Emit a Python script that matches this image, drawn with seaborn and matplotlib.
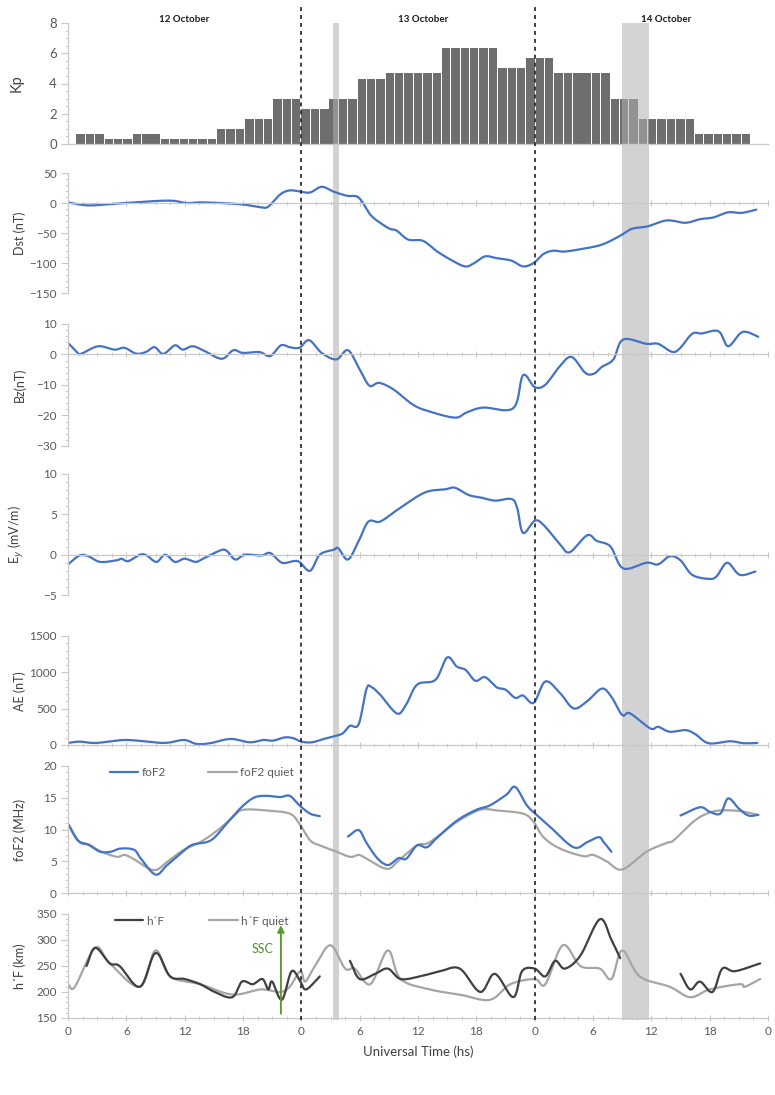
import numpy as np
import pandas as pd
import matplotlib
matplotlib.use("Agg")
import matplotlib.pyplot as plt
import seaborn as sns
from matplotlib.ticker import MultipleLocator, FixedLocator
from matplotlib.lines import Line2D

sns.set_theme(style="white")
plt.rcParams["font.family"] = ["Lato", "DejaVu Sans"]

# ---------------- data ----------------
kp_index = list(range(72))
kp_values = [0.67, 0.67, 0.67, 0.33, 0.33, 0.33, 0.67, 0.67, 0.67, 0.33, 0.33, 0.33,
             0.33, 0.33, 0.33, 1.0, 1.0, 1.0, 1.67, 1.67, 1.67, 3.0, 3.0, 3.0,
             2.33, 2.33, 2.33, 3.0, 3.0, 3.0, 4.33, 4.33, 4.33, 4.67, 4.67, 4.67,
             4.67, 4.67, 4.67, 6.33, 6.33, 6.33, 6.33, 6.33, 6.33, 5.0, 5.0, 5.0,
             5.67, 5.67, 5.67, 4.67, 4.67, 4.67, 4.67, 4.67, 4.67, 3.0, 3.0, 3.0,
             1.67, 1.67, 1.67, 1.67, 1.67, 1.67, 0.67, 0.67, 0.67, 0.67, 0.67, 0.67]

dst_t = [0, 2.1, 5, 10.2, 12.2, 13.9, 17.7, 19.8, 20.6, 21.8, 22.8, 23.9, 24.9, 26.1, 27.3,
         28.7, 29.9, 31.1, 32.1, 33.1, 33.8, 35.0, 36.5, 37.9, 39.3, 40.8, 41.7, 42.9, 44.1,
         45.6, 46.8, 47.9, 48.9, 49.9, 51.0, 52.7, 54.9, 56.8, 58.0, 59.6, 61.6, 63.5, 65.0,
         66.4, 67.9, 69.3, 70.8]
dst_v = [1, -4, -1, 4, 0, 1, -2, -7, -6, 14, 21, 19, 17.5, 27, 19,
         12, 9, -19.5, -33, -43, -46, -61, -63, -80, -94, -105.6, -101, -89, -92,
         -96, -105.6, -100, -85, -79.5, -81, -77, -69.5, -54.5, -43, -39, -29, -33, -27,
         -24, -15.5, -16.5, -11]

bz_t = [0, 1.0, 1.4, 3.1, 4.8, 5.8, 7.0, 8.0, 8.9, 9.8, 11.0, 11.8, 12.8, 13.9, 15.8, 17.0,
        18.0, 19.7, 20.8, 21.9, 22.8, 23.8, 24.8, 26.1, 27.6, 28.8, 30.0, 31.0, 32.0, 33.5,
        35.5, 37.2, 39.8, 41.0, 42.7, 45.8, 46.8, 48.0, 49.1, 50.6, 51.8, 53.2, 54.1, 54.9,
        56.1, 57.1, 59.5, 60.7, 62.1, 62.9, 64.2, 65.2, 66.4, 67.1, 67.9, 69.1, 69.8, 71.0]
bz_v = [3.8, 0.5, 0.3, 2.7, 1.6, 2.2, 0.3, 0.8, 2.4, 0.2, 3.0, 1.6, 2.7, 1.4, -1.4, 1.4,
        0.5, 0.8, -0.5, 3.0, 2.4, 2.2, 4.7, 0.5, -1.6, 1.4, -4.9, -10.2, -9.3, -11.5,
        -16.5, -18.7, -20.7, -19.0, -17.4, -17.6, -6.8, -10.7, -9.9, -3.8, -0.8, -6.0, -6.3, -4.1,
        -1.6, 4.9, 3.5, 3.5, 0.9, 1.9, 6.8, 6.9, 7.8, 7.1, 2.7, 6.8, 7.4, 5.8]

ey_t = [0, 1.2, 2.1, 3.3, 5.0, 5.5, 6.2, 7.4, 8.1, 9.1, 10.0, 11.0, 12.0, 13.1, 13.9, 15.6,
        16.3, 17.2, 18.2, 19.9, 20.8, 22.0, 23.2, 23.8, 24.9, 25.9, 27.3, 27.8, 28.8, 29.9,
        30.9, 32.1, 33.8, 35.9, 37.2, 38.8, 39.8, 41.2, 42.4, 43.9, 45.6, 46.2, 46.8, 48.0,
        48.9, 50.6, 51.6, 53.4, 54.4, 55.8, 57.1, 59.5, 60.7, 61.9, 63.0, 64.2, 65.9, 66.7,
        67.8, 69.1, 70.7]
ey_v = [-1.2, -0.1, -0.2, -0.9, -0.7, -0.5, -0.8, 0.0, -0.1, -0.9, 0.0, -0.9, -0.5, -0.9, -0.5, 0.5,
        0.5, -0.6, 0.0, -0.1, 0.2, -1.0, -0.8, -0.9, -2.0, 0.0, 0.6, 0.8, -0.6, 1.7,
        4.1, 4.1, 5.5, 7.2, 7.9, 8.1, 8.3, 7.4, 7.1, 6.7, 6.9, 5.8, 2.7, 4.2,
        3.7, 1.3, 0.3, 2.4, 1.7, 1.0, -1.7, -1.0, -1.2, -0.2, -0.7, -2.5, -3.0, -2.7,
        -1.0, -2.5, -2.1]

ae_t = [0, 1.2, 2.9, 6.0, 9.8, 11.9, 13.2, 14.6, 16.7, 18.7, 20.1, 21.1, 22.3, 23.2, 24.0,
        25.1, 26.3, 27.6, 28.3, 29.0, 29.9, 30.7, 31.2, 32.1, 33.8, 34.7, 35.9, 37.8, 39.0,
        40.0, 40.9, 41.9, 42.9, 44.1, 45.0, 46.0, 46.8, 47.9, 49.1, 50.6, 52.0, 53.4, 54.9,
        55.9, 57.0, 57.8, 59.9, 60.7, 61.9, 63.5, 64.5, 65.9, 68.1, 69.5, 70.9]
ae_v = [27, 45, 27, 68, 27, 68, 14, 23, 82, 36, 68, 59, 104, 91, 45,
        36, 82, 127, 163, 263, 285, 770, 797, 693, 435, 535, 829, 897, 1205,
        1078, 1033, 883, 933, 793, 761, 648, 680, 580, 874, 716, 503, 602, 775,
        661, 412, 435, 227, 249, 181, 204, 150, 23, 50, 23, 27]

fof2_t = [0, 1.0, 2.1, 3.3, 4.4, 5.4, 6.8, 7.5, 9.0, 10.2, 11.8, 12.8, 14.7, 16.3, 17.7, 19.1,
          20.4, 21.8, 22.8, 23.8, 24.9, 25.9,
          28.8, 29.9, 30.7, 31.8, 32.9, 34.0, 34.8, 35.9, 36.9, 37.9, 40.0, 42.0, 43.4, 45.1,
          46.0, 47.2, 48.2, 49.6, 52.0, 53.4, 54.6, 55.1, 55.9,
          63.0, 65.0, 66.0, 67.1, 67.9, 69.0, 70.0, 71.0]
fof2_v = [10.9, 8.3, 7.6, 6.5, 6.5, 7.0, 6.8, 5.4, 2.9, 4.4, 6.5, 7.6, 8.3, 10.9, 13.3, 15.0,
          15.3, 15.1, 15.3, 13.8, 12.5, 12.1,
          8.9, 9.9, 7.9, 5.5, 4.4, 5.5, 5.4, 7.5, 7.2, 8.6, 11.4, 13.1, 13.8, 15.5,
          16.7, 13.8, 12.3, 10.4, 7.2, 8.0, 8.8, 8.0, 6.5,
          12.2, 13.5, 12.8, 12.5, 14.9, 13.3, 12.2, 12.3]
fof2_seg = [1] * 22 + [2] * 23 + [3] * 8

fof2q_t = [0, 1.2, 2.2, 3.3, 5.0, 5.8, 6.7, 8.8, 10.2, 11.8, 13.7, 15.4, 17.0, 18.0, 20.4,
           22.8, 23.8, 24.9, 25.9, 27.3, 29.0, 29.9, 30.7, 32.8, 34.0, 35.9, 37.2, 40.0, 42.4,
           44.1, 46.8, 47.9, 48.9, 50.6, 53.0, 54.0, 55.4, 57.0, 59.5, 61.6, 62.3, 64.3, 65.7,
           67.1, 69.1, 71.0]
fof2q_v = [10.9, 8.0, 7.6, 6.6, 5.7, 6.0, 5.4, 3.6, 4.9, 6.7, 8.1, 9.9, 12.0, 13.1, 13.0,
           12.5, 10.9, 8.3, 7.5, 6.7, 5.7, 6.0, 5.4, 3.8, 5.1, 7.5, 8.0, 11.2, 13.1,
           13.0, 12.5, 11.2, 8.8, 7.0, 5.8, 6.0, 5.0, 3.7, 6.5, 7.9, 8.3, 11.2, 12.5,
           13.0, 12.9, 12.3]

hf_t = [1.9, 2.8, 4.3, 5.3, 7.4, 9.0, 10.5, 12.0, 13.6, 15.1, 16.9, 17.9, 19.0, 20.0, 20.6,
        21.0, 22.0, 23.0, 23.9, 24.5, 25.9,
        29.0, 30.0, 31.6, 32.9, 34.2, 36.2, 38.3, 40.3, 42.4, 43.9, 45.8, 46.7, 48.0, 49.1,
        50.1, 51.1, 52.7, 54.7, 55.9, 56.8,
        63.0, 64.0, 65.0, 66.3, 67.3, 68.6, 71.2]
hf_v = [250, 285, 255, 250, 210, 275, 230, 225, 215, 200, 190, 220, 215, 225, 205,
        220, 185, 240, 220, 205, 230,
        260, 225, 235, 245, 225, 230, 240, 245, 200, 235, 190, 240, 245, 230,
        260, 245, 270, 340, 300, 265,
        235, 205, 220, 200, 245, 240, 255]
hf_seg = [1] * 21 + [2] * 20 + [3] * 7

hfq_t = [0, 0.7, 2.8, 4.3, 7.4, 9.0, 10.5, 13.6, 16.9, 19.8, 21.8, 22.8, 23.9, 24.4, 25.4,
         27.0, 28.5, 29.5, 31.1, 32.9, 34.2, 37.2, 40.3, 43.4, 45.5, 48.0, 49.1, 50.9, 52.7,
         54.7, 55.9, 57.0, 58.8, 61.9, 64.0, 66.0, 69.1, 69.6, 71.2]
hfq_v = [215, 210, 285, 255, 210, 280, 230, 215, 195, 205, 200, 210, 240, 220, 250,
         290, 245, 245, 215, 280, 225, 205, 195, 185, 215, 225, 215, 290, 250,
         245, 225, 280, 230, 210, 190, 205, 215, 210, 225]

x_tick_pos = [0, 6, 12, 18, 24, 30, 36, 42, 48, 54, 60, 66, 72]
x_tick_labels = ["0", "6", "12", "18", "0", "6", "12", "18", "0", "6", "12", "18", "0"]
day_labels = ["12 October", "13 October", "14 October"]
day_label_pos = [12, 36.5, 61.5]
storm_lines = [24, 48]
bands = [(27.3, 27.9), (56.95, 59.8)]


# ---------------- smoothing (Excel-like smoothed line rendering) ----------------
def smooth(t, v, seg=None, n=10):
    t = np.asarray(t, float)
    v = np.asarray(v, float)
    if seg is None:
        seg = np.ones(len(t), int)
    seg = np.asarray(seg)
    xs, ys, ss = [], [], []
    for s_id in pd.unique(seg):
        m = seg == s_id
        P = np.column_stack([t[m], v[m]])
        if len(P) < 3:
            xs += list(P[:, 0]); ys += list(P[:, 1]); ss += [s_id] * len(P)
            continue
        ext = np.vstack([2 * P[0] - P[1], P, 2 * P[-1] - P[-2]])
        s = np.linspace(0, 1, n, endpoint=False)[:, None]
        pts = []
        for i in range(1, len(ext) - 2):
            p0, p1, p2, p3 = ext[i - 1], ext[i], ext[i + 1], ext[i + 2]
            pts.append(0.5 * (2 * p1 + (-p0 + p2) * s + (2 * p0 - 5 * p1 + 4 * p2 - p3) * s ** 2
                              + (-p0 + 3 * p1 - 3 * p2 + p3) * s ** 3))
        pts.append(P[-1:])
        pts = np.vstack(pts)
        xs += list(pts[:, 0]); ys += list(pts[:, 1]); ss += [s_id] * len(pts)
    return pd.DataFrame({"t": xs, "v": ys, "seg": ss})


# ---------------- layout ----------------
W, H = 775, 1095
fig = plt.figure(figsize=(W / 100, H / 100), dpi=100)
fig.patch.set_facecolor("white")
L, R = 68, 768


def px_axes(top, bottom, zorder=1):
    ax = fig.add_axes([L / W, 1 - bottom / H, (R - L) / W, (bottom - top) / H])
    ax.set_facecolor("none")
    ax.set_zorder(zorder)
    return ax


AXC = "#c8c8c8"
TXT = "#595959"
BLUE = "#4472C4"
GREY = "#a5a5a5"
DARK = "#404040"

bg = px_axes(5, 1020, zorder=0)
bg.set_xlim(0, 72)
bg.set_ylim(0, 1)
bg.axis("off")
for a, b in bands:
    bg.axvspan(a, b, ymin=0, ymax=(1020 - 22.7) / 1015, color="#d2d2d2", lw=0)

fg = px_axes(5, 1020, zorder=10)
fg.set_xlim(0, 72)
fg.set_ylim(0, 1)
fg.axis("off")
for a, b in bands:
    fg.axvspan(a, b, ymin=(1020 - 144) / 1015, ymax=(1020 - 22.7) / 1015,
               color="#d8d8d8", alpha=0.35, lw=0)
for xv in storm_lines:
    fg.axvline(xv, color="#303030", lw=1.3, ls=(0, (2.2, 2.2)))
for lab, xp in zip(day_labels, day_label_pos):
    fg.text(xp, (1020 - 19) / 1015, lab, ha="center", va="center",
            fontsize=7, fontweight="bold", color="#1a1a1a")


def style(ax, ylabel, ymin, ymax, ymaj, ymin_step, zero_at=None, labelpad_x=-0.06):
    for s in ["top", "right"]:
        ax.spines[s].set_visible(False)
    ax.spines["left"].set_color(AXC)
    ax.spines["bottom"].set_color(AXC)
    ax.spines["left"].set_linewidth(0.9)
    ax.spines["bottom"].set_linewidth(0.9)
    ax.set_ylim(ymin, ymax)
    ax.yaxis.set_major_locator(MultipleLocator(ymaj))
    ax.yaxis.set_minor_locator(MultipleLocator(ymin_step))
    ax.tick_params(axis="y", which="major", length=5, width=0.8, color=AXC, direction="out",
                   labelsize=8.5, labelcolor=TXT, pad=3, left=True)
    ax.tick_params(axis="y", which="minor", length=2.5, width=0.6, color=AXC, direction="out", left=True)
    if zero_at is not None:
        ax.spines["bottom"].set_position(("data", zero_at))
    ax.set_ylabel(ylabel, fontsize=9, color="#404040")
    ax.yaxis.set_label_coords(labelpad_x, 0.5)


def xstyle(ax, labels=False):
    ax.set_xlim(0, 72)
    ax.xaxis.set_major_locator(FixedLocator(x_tick_pos))
    ax.xaxis.set_minor_locator(MultipleLocator(1.5))
    ax.tick_params(axis="x", which="major", length=5, width=0.8, color=AXC, direction="inout",
                   bottom=True, labelbottom=labels, labelsize=8.5, labelcolor=TXT, pad=3)
    ax.tick_params(axis="x", which="minor", length=3, width=0.6, color=AXC, direction="inout", bottom=True)
    if labels:
        ax.set_xticklabels(x_tick_labels)
    ax.set_xlabel("")


def line(ax, t, v, color, seg=None, lw=1.6):
    df = smooth(t, v, seg)
    sns.lineplot(data=df, x="t", y="v", units="seg", estimator=None, sort=False,
                 ax=ax, color=color, lw=lw)


# Kp
ax_kp = px_axes(23, 144)
kp_df = pd.DataFrame({"i": kp_index, "kp": kp_values})
sns.barplot(data=kp_df, x="i", y="kp", ax=ax_kp, color="#6e6e6e", saturation=1,
            width=0.9, order=kp_index)
for p in ax_kp.patches:
    p.set_edgecolor("none")
ax_kp.set_xlim(-1.355, 73.35)
style(ax_kp, "Kp", 0, 8, 2, 0.5, labelpad_x=-0.063)
ax_kp.set_xticks([])
ax_kp.set_xlabel("")
ax_kp.yaxis.label.set_size(10.5)
ax_kp.tick_params(axis="y", labelsize=9.5)

# Dst
ax_dst = px_axes(173, 293)
line(ax_dst, dst_t, dst_v, BLUE)
style(ax_dst, "Dst (nT)", -150, 50, 50, 10, zero_at=0)
xstyle(ax_dst)

# Bz
ax_bz = px_axes(324, 446)
line(ax_bz, bz_t, bz_v, BLUE)
style(ax_bz, "Bz(nT)", -30, 10, 10, 2, zero_at=0)
xstyle(ax_bz)

# Ey
ax_ey = px_axes(474, 595)
line(ax_ey, ey_t, ey_v, BLUE)
style(ax_ey, "E$_y$ (mV/m)", -5, 10, 5, 1, zero_at=0)
xstyle(ax_ey)

# AE
ax_ae = px_axes(636, 746)
line(ax_ae, ae_t, ae_v, BLUE)
style(ax_ae, "AE (nT)", 0, 1500, 500, 100, zero_at=0)
ax_ae.set_ylim(-15, 1500)
ax_ae.spines["left"].set_bounds(0, 1500)
xstyle(ax_ae)

# foF2
ax_f = px_axes(766, 893)
line(ax_f, fof2q_t, fof2q_v, GREY)
line(ax_f, fof2_t, fof2_v, BLUE, seg=fof2_seg)
style(ax_f, "foF2 (MHz)", 0, 20, 5, 1, zero_at=0)
xstyle(ax_f)
ax_f.legend(handles=[Line2D([], [], color=BLUE, lw=1.6), Line2D([], [], color=GREY, lw=1.6)],
            labels=["foF2", "foF2 quiet"], ncol=2, frameon=False, loc="upper left",
            bbox_to_anchor=(0.053, 1.03), fontsize=8.5, handlelength=2.4, columnspacing=3.6,
            labelcolor=TXT, borderaxespad=0, handletextpad=0.3)

# h'F
ax_h = px_axes(914, 1018)
line(ax_h, hfq_t, hfq_v, GREY)
line(ax_h, hf_t, hf_v, DARK, seg=hf_seg)
style(ax_h, "h´F (km)", 150, 350, 50, 10)
xstyle(ax_h, labels=True)
ax_h.set_xlabel("Universal Time (hs)", fontsize=9.5, color="#404040", labelpad=6)
ax_h.legend(handles=[Line2D([], [], color=DARK, lw=1.6), Line2D([], [], color=GREY, lw=1.6)],
            labels=["h´F", "h´F quiet"], ncol=2, frameon=False, loc="upper left",
            bbox_to_anchor=(0.06, 1.03), fontsize=8.5, handlelength=2.4, columnspacing=3.8,
            labelcolor=TXT, borderaxespad=0, handletextpad=0.3)
ax_h.annotate("", xy=(21.9, 334), xytext=(21.9, 153),
              arrowprops=dict(arrowstyle="-|>", color="#5b9b2f", lw=1.4, mutation_scale=10))
ax_h.text(20.0, 282, "SSC", color="#4f8f28", fontsize=9, ha="center", va="center")

for ax in [ax_kp, ax_dst, ax_bz, ax_ey, ax_ae, ax_f, ax_h]:
    ax.set_zorder(1)

fig.savefig("out.png", dpi=100, facecolor="white")
